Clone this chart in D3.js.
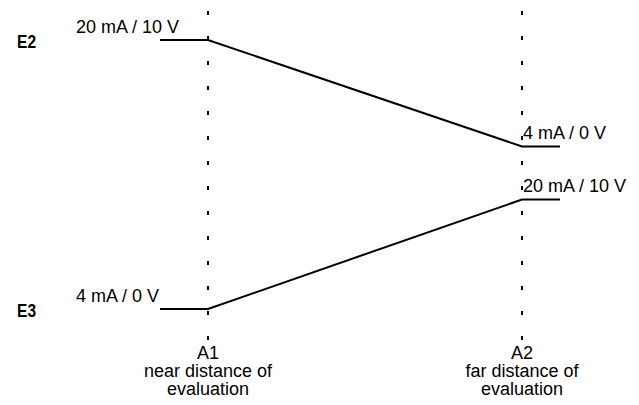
<!DOCTYPE html>
<html>
<head>
    <title>E2 / E3 analog output vs. distance of evaluation</title>
    <script src="https://d3js.org/d3.v7.min.js"></script>
    <style>
        body { margin: 0; background: #fff; }
        svg { display: block; }
        text { font-family: "Liberation Sans", Arial, sans-serif; fill: #000; }
    </style>
</head>
<body>
<div id="chart"></div>
<script>
    // Evaluation points along the distance axis
    var points = ["A1", "A2"];
    var pointNotes = ["near distance of", "far distance of"];
    var pointNotes2 = ["evaluation", "evaluation"];

    // Output current (mA) of each output at A1 and A2
    var e2Values = [20, 4];
    var e3Values = [4, 20];

    // Output levels and their labels
    var levels = [4, 20];
    var levelLabels = ["4 mA / 0 V", "20 mA / 10 V"];

    var width = 639, height = 405;

    var svg = d3.select('#chart').append('svg')
        .attr('width', width)
        .attr('height', height);

    var x = d3.scalePoint().domain(points).range([208, 522]);

    // each output gets its own band of the drawing
    var series = [
        {name: 'E2', values: e2Values, y: d3.scaleLinear().domain([4, 20]).range([146.5, 40])},
        {name: 'E3', values: e3Values, y: d3.scaleLinear().domain([4, 20]).range([309, 199.5])}
    ];

    function labelFor(v) {
        return levelLabels[levels.indexOf(v)];
    }

    // dotted verticals at A1 and A2
    svg.selectAll('line.guide')
        .data(points)
        .enter().append('line')
        .attr('class', 'guide')
        .attr('x1', function(d) { return x(d); })
        .attr('x2', function(d) { return x(d); })
        .attr('y1', 11)
        .attr('y2', 341)
        .attr('stroke', '#000')
        .attr('stroke-width', 2)
        .attr('stroke-dasharray', '4,21');

    var line = d3.line()
        .x(function(d) { return d[0]; })
        .y(function(d) { return d[1]; });

    series.forEach(function(s) {
        var x1 = x(points[0]), x2 = x(points[1]);
        var y1 = s.y(s.values[0]), y2 = s.y(s.values[1]);
        var pts = [[x1 - 48, y1], [x1, y1], [x2, y2], [x2 + 38, y2]];

        svg.append('path')
            .datum(pts)
            .attr('d', line)
            .attr('fill', 'none')
            .attr('stroke', '#000')
            .attr('stroke-width', 2);

        // series name at far left (condensed bold)
        svg.append('text')
            .attr('transform', 'translate(17,' + (y1 + 8) + ') scale(0.82,1)')
            .style('font-weight', 'bold')
            .style('font-size', '19px')
            .text(s.name);

        // level labels above the stubs
        svg.append('text')
            .attr('x', x1 - 132)
            .attr('y', y1 - 7)
            .style('font-size', '18px')
            .text(labelFor(s.values[0]));

        svg.append('text')
            .attr('x', x2 + 1)
            .attr('y', y2 - 8)
            .style('font-size', '18px')
            .text(labelFor(s.values[1]));
    });

    // point labels under the dotted lines
    var lab = svg.selectAll('text.pt')
        .data(points)
        .enter().append('text')
        .attr('class', 'pt')
        .attr('text-anchor', 'middle')
        .style('font-size', '18px');

    lab.append('tspan')
        .attr('x', function(d) { return x(d); })
        .attr('y', 359)
        .text(function(d) { return d; });
    lab.append('tspan')
        .attr('x', function(d) { return x(d); })
        .attr('y', 377)
        .text(function(d, i) { return pointNotes[i]; });
    lab.append('tspan')
        .attr('x', function(d) { return x(d); })
        .attr('y', 395)
        .text(function(d, i) { return pointNotes2[i]; });
</script>
</body>
</html>
